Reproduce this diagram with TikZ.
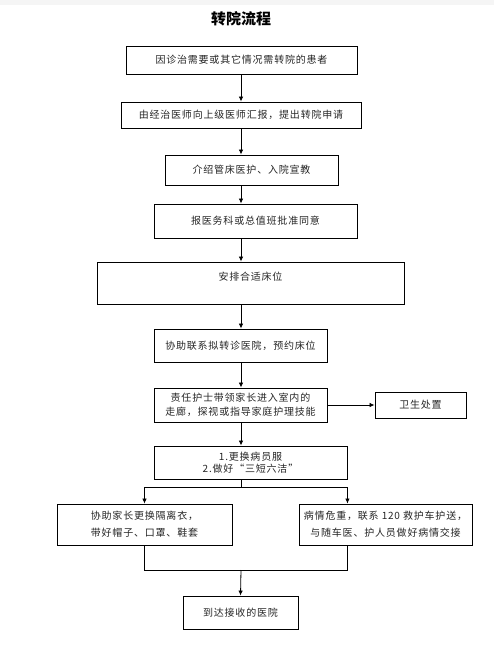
\documentclass[tikz,border=0pt]{standalone}
\usepackage{fontspec}
\newfontfamily\cjk[LetterSpace=8]{Noto Sans CJK SC}
\newfontfamily\cjktitle{Noto Sans CJK SC}
\usetikzlibrary{arrows.meta,calc}
\tikzset{
  flowbox/.style={draw=black, line width=0.9pt, fill=white, align=center, inner sep=2pt,
    font=\cjk\fontsize{10}{14}\selectfont, text=black!85},
  flowarr/.style={draw=black, line width=0.8pt, -{Latex[length=5pt,width=4.5pt]}},
  flowline/.style={draw=black, line width=0.8pt}
}
\begin{document}
\begin{tikzpicture}[x=1pt, y=-1pt]
% page size of the screenshot
\def\pagew{494}
\def\pageh{651}
\useasboundingbox (0,0) rectangle (\pagew,\pageh);
\fill[white] (0,0) rectangle (\pagew,\pageh);
\fill[black!4] (0,0) rectangle (\pagew,5);
% Title
\node[font=\cjktitle\bfseries\fontsize{15}{18}\selectfont] (title) at (241,19) {转院流程};
% Main column of boxes
\coordinate (axis) at (241,0);
\node[flowbox, minimum width=231pt, minimum height=28pt] (huanzhe) at (241.5,60) {因诊治需要或其它情况需转院的患者};
\node[flowbox, minimum width=240pt, minimum height=26pt] (shenqing) at (241,115) {由经治医师向上级医师汇报，提出转院申请};
\node[flowbox, minimum width=173pt, minimum height=30pt] (jieshao) at (251.5,170) {介绍管床医护、入院宣教};
\node[flowbox, minimum width=203pt, minimum height=34pt] (pizhun) at (255.5,221) {报医务科或总值班批准同意};
\node[flowbox, minimum width=307pt, minimum height=42pt] (chuangwei) at (250.5,283) {安排合适床位\\ \mbox{}};
\node[flowbox, minimum width=173pt, minimum height=33pt] (lianxi) at (240.5,345.5) {协助联系拟转诊医院，预约床位};
\node[flowbox, minimum width=173pt, minimum height=34pt, inner sep=1pt] (zeren) at (240.5,405) {责任护士带领家长进入室内的\\走廊，探视或指导家庭护理技能};
\node[flowbox, minimum width=91pt, minimum height=26pt] (weisheng) at (420.5,405) {卫生处置};
\node[flowbox, minimum width=193pt, minimum height=33pt, font=\cjk\fontsize{10}{12.5}\selectfont] (genghuan) at (250.5,462.5) {1.更换病员服\\2.做好“三短六洁”};
% Two branches
\node[flowbox, minimum width=175pt, minimum height=41pt, font=\cjk\fontsize{10}{17}\selectfont] (geli) at (144.5,524.5) {协助家长更换隔离衣，\\带好帽子、口罩、鞋套};
\node[flowbox, minimum width=173pt, minimum height=41pt, inner sep=1pt, font=\cjk\fontsize{10}{17}\selectfont] (weizhong) at (385.5,524.5) {病情危重，联系 120 救护车护送，\\与随车医、护人员做好病情交接};
\node[flowbox, minimum width=115pt, minimum height=33pt] (daoda) at (240.5,612.5) {到达接收的医院};
% Connectors
\draw[flowarr] (huanzhe.south -| axis) -- (shenqing.north -| axis);
\draw[flowarr] (shenqing.south -| axis) -- (jieshao.north -| axis);
\draw[flowarr] (jieshao.south -| axis) -- (pizhun.north -| axis);
\draw[flowarr] (pizhun.south -| axis) -- (chuangwei.north -| axis);
\draw[flowarr] (chuangwei.south -| axis) -- (lianxi.north -| axis);
\draw[flowarr] (lianxi.south -| axis) -- (zeren.north -| axis);
\draw[flowarr] (zeren.south -| axis) -- (genghuan.north -| axis);
\draw[flowarr] (zeren.east) -- (weisheng.west);
% Fork and join
\coordinate (fork) at (241,487);
\coordinate (join) at (241,570);
\draw[flowline] (genghuan.south -| fork) -- (fork);
\draw[flowarr] (fork) -| (geli.north);
\draw[flowarr] (fork) -- (fork -| genghuan.east) -- (weizhong.north -| genghuan.east);
\draw[flowline] (geli.south) |- (join -| genghuan.east) -- (weizhong.south -| genghuan.east);
\draw[flowarr] (join) -- (daoda.north);
\end{tikzpicture}
\end{document}
